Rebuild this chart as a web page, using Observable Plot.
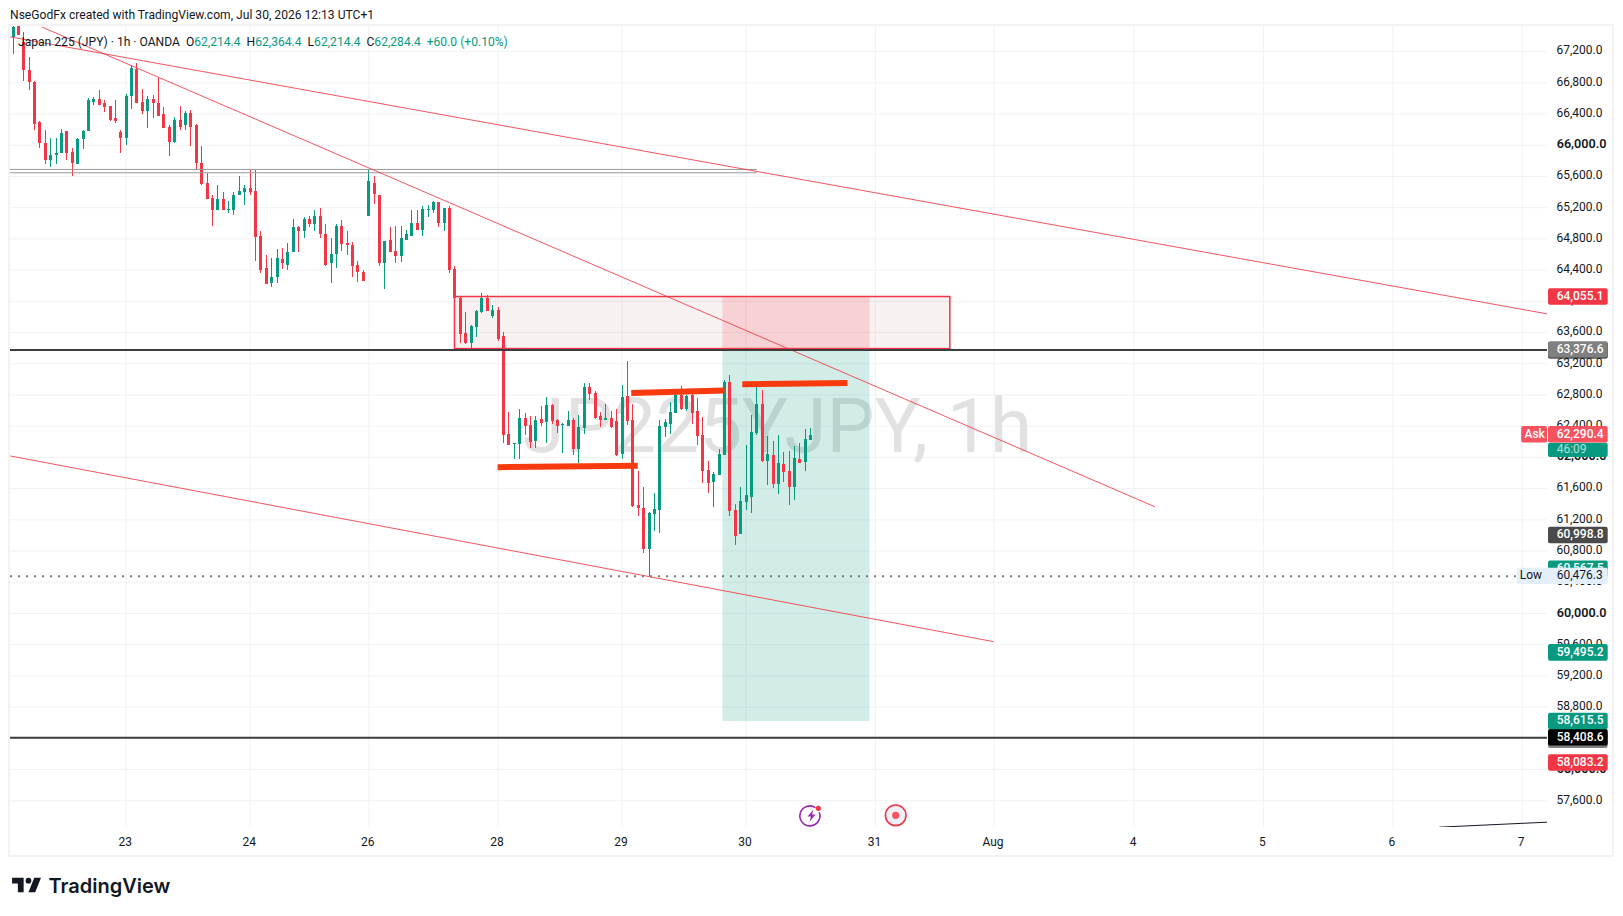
<!DOCTYPE html>
<html><head><meta charset="utf-8">
<script src="https://cdn.jsdelivr.net/npm/d3@7"></script>
<script src="https://cdn.jsdelivr.net/npm/@observablehq/plot@0.6"></script>
<style>
html,body{margin:0;padding:0;background:#fff;width:1623px;height:916px;overflow:hidden;position:relative;font-family:Roboto,sans-serif;color:#131722}
#title{position:absolute;left:10px;top:7px;font-size:12.1px;line-height:16px;white-space:nowrap}
#wrap{position:absolute;left:8px;top:24px;width:1602px;height:829px;border:2px solid #f3f3f3}
#wrap svg{display:block}
#legend{position:absolute;left:18px;top:34px;font-size:12.1px;line-height:16px;white-space:nowrap;word-spacing:0}
#legend b{font-weight:400;color:#089981}
#logo{position:absolute;left:10px;top:872px}
#brand{position:absolute;left:48.5px;top:872px;font-family:Inter,sans-serif;font-weight:600;font-size:20px;line-height:28px;color:#131722}
#icons{position:absolute;left:791px;top:795px}
</style></head><body>
<div id="title">NseGodFx created with TradingView.com, Jul 30, 2026 12:13 UTC+1</div>
<div id="wrap"></div>
<div id="legend">Japan 225 (JPY) · 1h · OANDA&nbsp;&nbsp;O<b>62,214.4</b>&nbsp;&nbsp;H<b>62,364.4</b>&nbsp;&nbsp;L<b>62,214.4</b>&nbsp;&nbsp;C<b>62,284.4</b>&nbsp;&nbsp;<b>+60.0 (+0.10%)</b></div>
<svg id="icons" width="130" height="42" viewBox="0 0 130 42">
<path d="M28.2 17.2A10 10 0 1 1 24.5 12.6" fill="none" stroke="#9c27b0" stroke-width="1.6"/>
<path d="M22.5 14.5L16.5 21.5H20L18.5 27L24.5 19.5H21Z" fill="#9c27b0"/>
<circle cx="27.3" cy="13.3" r="2.6" fill="#f23645"/>
<circle cx="104.7" cy="20.3" r="10.3" fill="#eef0f8" stroke="#f23645" stroke-width="1.6"/>
<circle cx="104.7" cy="20.3" r="3.6" fill="#f7525f"/>
</svg>
<svg id="logo" width="35" height="27" viewBox="0 0 36 28"><path fill="#131722" d="M14 6H2v6h6v9h6V6Zm12 15h-7l6-15h7l-6 15Zm-7-9a3 3 0 1 0 0-6 3 3 0 0 0 0 6Z"/></svg>
<div id="brand">TradingView</div>
<script>
const opens = [67380,67590,67320,66960,66810,66290,66020,65800,65870,65890,66170,65910,65750,66070,66170,66550,66590,66540,66490,66340,66160,66090,66630,66970,66550,66430,66590,66540,66390,66230,66030,66320,66250,66410,66250,65770,65510,65320,65160,65310,65170,65170,65350,65400,65450,65410,
64830,64420,64230,64300,64540,64460,64620,64950,64890,65050,64990,65090,64850,64480,64600,64960,64740,64720,64460,64370,65090,65510,65350,64480,64780,64640,64580,64780,64830,65000,64910,65170,65170,65260,65000,65190,64410,64030,63590,63460,63670,63860,64030,63810,63880,
63550,62290,62170,62170,62500,62410,62200,62490,62450,62670,62470,62410,62400,62470,62100,62370,62900,62820,62520,62470,62500,62460,62040,62780,62470,61380,61340,60820,
61270,61320,62380,62420,62560,62790,62620,62790,62590,62280,61830,61680,61770,62020,62960,61320,61010,61420,61480,62310,62680,61950,62020,61650,61910,61820,61610,61970,61930,62214.4];
const closes = [67510,67410,66960,66800,66270,66020,65800,65870,65890,66150,65890,65760,66070,66180,66570,66590,66510,66480,66320,66300,66090,66630,66980,66540,66430,66580,66530,66370,66220,66040,66320,66230,66410,66230,65760,65500,65310,65160,65310,65170,65180,65350,65410,65440,65400,64820,
64400,64220,64310,64550,64480,64630,64950,64890,65050,64990,65090,64850,64460,64600,64960,64730,64710,64450,64370,64260,65530,65370,64480,64770,64630,64580,64800,64850,65000,64910,65180,65180,65260,65000,65190,64400,64030,63580,63460,63680,63870,64030,63870,63880,63510,
62280,62150,62180,62500,62400,62190,62470,62430,62670,62460,62400,62420,62470,62100,62380,62900,62810,62500,62470,62500,62380,62020,62770,62460,61370,61340,60820,61280,
61330,62400,62450,62580,62790,62620,62780,62560,62270,61820,61670,61780,62040,62960,61310,60980,61430,61510,62320,62680,61950,62040,61650,61920,61810,61610,61990,61920,62230,62284.4];
const highs = [67540,67620,67440,67120,66820,66300,66190,66090,66090,66200,66180,65960,66090,66190,66600,66610,66700,66570,66490,66570,66190,66650,67020,67050,66720,66630,66640,66850,66480,66250,66360,66500,66430,66440,66260,65990,65640,65350,65480,65390,65280,65390,65600,65480,65680,65680,
64900,64590,64550,64660,64680,64740,65050,64960,65070,65090,65170,65190,64980,64800,64980,65040,64890,64760,64510,64390,65680,65600,65350,64770,64940,64960,64960,64910,65160,65160,65210,65230,65280,65270,65190,65210,64450,64050,63860,63690,63880,64100,64080,63950,63920,
63600,62580,62180,62610,62560,62520,62520,62650,62770,62680,62490,62430,62590,62500,62540,62950,62950,62850,62580,62680,62590,62610,62920,63230,62680,61820,61610,61300,
61540,62470,62490,62700,62810,62910,62790,62820,62760,62510,61950,61810,62100,62990,63050,61400,61610,62150,62540,62900,62860,62270,62200,62280,62060,62080,62140,62180,62360,62364.4];
const lows = [67160,67400,66820,66700,66190,65960,65750,65720,65750,65890,65810,65600,65750,65940,66170,66510,66510,66420,66310,66280,65900,66000,66460,66530,66390,66220,66340,66370,66220,65850,66020,66190,66190,65990,65670,65490,65310,64960,65160,65170,65130,65100,65350,65230,65350,64510,
64360,64210,64180,64230,64410,64390,64620,64620,64810,64950,64890,64810,64450,64230,64420,64640,64590,64310,64240,64260,65090,65240,64440,64150,64620,64490,64500,64780,64830,64910,64830,65080,65130,64940,64890,64360,64030,63460,63450,63360,63540,63850,63870,63780,63490,
62180,62150,61970,61970,62280,62110,62110,62400,62180,62420,62310,62050,62400,62020,61920,62290,62730,62490,62380,62470,62370,62010,61970,62410,61360,61240,60770,60476.3,
61050,61020,62260,62290,62560,62600,62590,62420,62150,61670,61540,61360,61770,62020,61240,60870,61010,61320,61280,62280,61930,61640,61600,61520,61680,61380,61450,61920,61820,62214.4];
const dayTicks = [21,44,66,90,113,136,160,182,208,232,256,280];
const dayLabels = ["23","24","26","28","29","30","31","Aug","4","5","6","7"];
const priceTicks = d3.range(57600, 67201, 400);
const channelUpper = [[-0.46,67388],[284.7,63838]];
const channelSteep = [[5.42,67513],[211.8,61369]];
const channelLower = [[-0.41,62017],[181.9,59639]];
const cornerLine = [[264.7,57262],[284.7,57326]];
const doubleLevels = [65690,65647];
const blackLevels = [63376.6,58408.6];
const lowPrice = 60476.3;
const zoneBox = {i1:82,i2:173.9,top:64055.1,bottom:63388};
const positionTool = {i1:131.7,i2:159,stop:64055.1,entry:63376.6,target:58615.5};
const thickSegments = [[[89.9,61874],[115.9,61892]],[[114.7,62826],[132,62858]],[[135.3,62938],[154.8,62953]]];
const chipPrices = [64055.1,63366,63376.6,58376,58408.6,58615.5,60998.8,60567.5,59495.2,58083.2];
const chipLabels = ["64,055.1","","63,376.6","","58,408.6","58,615.5","60,998.8","60,567.5","59,495.2","58,083.2"];
const chipFills = ["#f23645","#000","#808080","#808080","#000","#089981","#4a4a4a","#089981","#089981","#f23645"];

const candles = opens.map((o,i)=>({i,o,c:closes[i],h:highs[i],l:lows[i],col:closes[i]>=o?"#089981":"#f23645"}));
const fmt = d3.format(",.1f");
const chips = chipPrices.map((p,k)=>({p,label:chipLabels[k],fill:chipFills[k]}));
const AX1=284.88, AX2=295.95, AXT=286.4, HALF=106;
const lineOf = (pts,opt)=>Plot.line(pts,{x:d=>d[0],y:d=>d[1],clip:true,...opt});
const boldTicks = priceTicks.filter(d=>d%2000===0);

const plot = Plot.plot({
  width:1602,height:829,marginTop:0,marginBottom:28,marginLeft:0,marginRight:65,
  style:{fontFamily:"Roboto,sans-serif",fontSize:"12px",color:"#131722",background:"#fff",overflow:"visible"},
  x:{type:"linear",domain:[-0.464,284.69],axis:null},
  y:{type:"linear",domain:[57257.5,67521.4],axis:null},
  marks:[
    Plot.ruleY(priceTicks,{stroke:"#f2f2f3",strokeWidth:1}),
    Plot.ruleX(dayTicks,{stroke:"#f2f2f3",strokeWidth:1}),
    Plot.text(["JP225YJPY, 1h"],{x:141.8,y:62383,text:d=>d,fontSize:76.5,fill:"#e1e1e1",fontFamily:"Roboto,sans-serif"}),
    Plot.rect([positionTool],{x1:"i1",x2:"i2",y1:"entry",y2:"target",fill:"#089981",fillOpacity:0.18}),
    Plot.rect([zoneBox],{x1:"i1",x2:"i2",y1:"bottom",y2:"top",fill:"#a05050",fillOpacity:0.08,stroke:"#f23645",strokeWidth:1.5}),
    Plot.rect([positionTool],{x1:"i1",x2:"i2",y1:"entry",y2:"stop",fill:"#f23645",fillOpacity:0.17}),
    Plot.ruleX(candles,{x:"i",y1:"l",y2:"h",stroke:"col",strokeWidth:1,shapeRendering:"crispEdges",clip:true}),
    Plot.ruleX(candles,{x:"i",y1:"o",y2:"c",stroke:"col",strokeWidth:3,shapeRendering:"crispEdges",clip:true}),
    Plot.ruleY(doubleLevels,{x1:-0.46,x2:138.1,stroke:"#999",strokeWidth:1}),
    lineOf(channelUpper,{stroke:"#f23645",strokeWidth:1,strokeOpacity:.85}),
    lineOf(channelSteep,{stroke:"#f23645",strokeWidth:1,strokeOpacity:.85}),
    lineOf(channelLower,{stroke:"#f23645",strokeWidth:1,strokeOpacity:.85}),
    lineOf(cornerLine,{stroke:"#131722",strokeWidth:1}),
    ...thickSegments.map(s=>lineOf(s,{stroke:"#f83b0e",strokeWidth:6,strokeLinecap:"butt"})),
    Plot.ruleY(blackLevels,{stroke:"#3d3d3d",strokeWidth:2}),
    Plot.ruleY([lowPrice],{x1:-0.46,x2:279.1,stroke:"#787878",strokeWidth:2,strokeDasharray:"2,6"}),
    Plot.axisY({anchor:"right",ticks:priceTicks.filter(d=>d%2000!==0),tickSize:0,tickPadding:9,tickFormat:fmt,label:null,fill:"#131722",fontSize:12,dy:-1}),
    Plot.text(boldTicks,{x:AXT,y:d=>d,text:d=>fmt(d),textAnchor:"start",fontWeight:600,fontSize:12.6,fill:"#131722",dy:-1}),
    Plot.text(dayTicks,{x:d=>d,text:(d,k)=>dayLabels[k],frameAnchor:"bottom",dy:18,dx:-1,fontSize:12,fill:"#131722",fontWeight:(d,k)=>dayLabels[k]==="Aug"?600:400}),
    Plot.rect(chips,{x1:AX1,x2:AX2,y1:d=>d.p-HALF,y2:d=>d.p+HALF,fill:"fill",rx:2}),
    Plot.text(chips,{x:AXT,y:"p",text:"label",textAnchor:"start",fill:"#fff",fontWeight:500,fontSize:12,dy:-1}),
    Plot.rect([62090],{x1:AX1,x2:AX2,y1:d=>d-92,y2:d=>d+92,fill:"#089981",rx:2}),
    Plot.text(["46:09"],{x:AXT,y:62090,text:d=>d,textAnchor:"start",fill:"#fff",fillOpacity:.7,fontSize:12,dy:-1}),
    Plot.rect([62290.4],{x1:279.9,x2:284.7,y1:d=>d-106,y2:d=>d+106,fill:"#f7525f",rx:2}),
    Plot.rect([62290.4],{x1:AX1,x2:AX2,y1:d=>d-106,y2:d=>d+106,fill:"#f7525f",rx:2}),
    Plot.text(["Ask"],{x:282.3,y:62290.4,text:d=>d,fill:"#fff",fontWeight:500,fontSize:12,dy:-1}),
    Plot.text(["62,290.4"],{x:AXT,y:62290.4,text:d=>d,textAnchor:"start",fill:"#fff",fontWeight:500,fontSize:12,dy:-1}),
    Plot.rect([lowPrice],{x1:279.1,x2:AX2,y1:d=>d-104,y2:d=>d+104,fill:"#e3effd",rx:2}),
    Plot.text(["Low"],{x:281.6,y:lowPrice,text:d=>d,fill:"#131722",fontSize:12,dy:-1}),
    Plot.text([lowPrice],{x:AXT,y:d=>d,text:d=>fmt(d),textAnchor:"start",fill:"#131722",fontSize:12,dy:-1})
  ]
});
document.getElementById("wrap").appendChild(plot);
</script>
</body></html>
